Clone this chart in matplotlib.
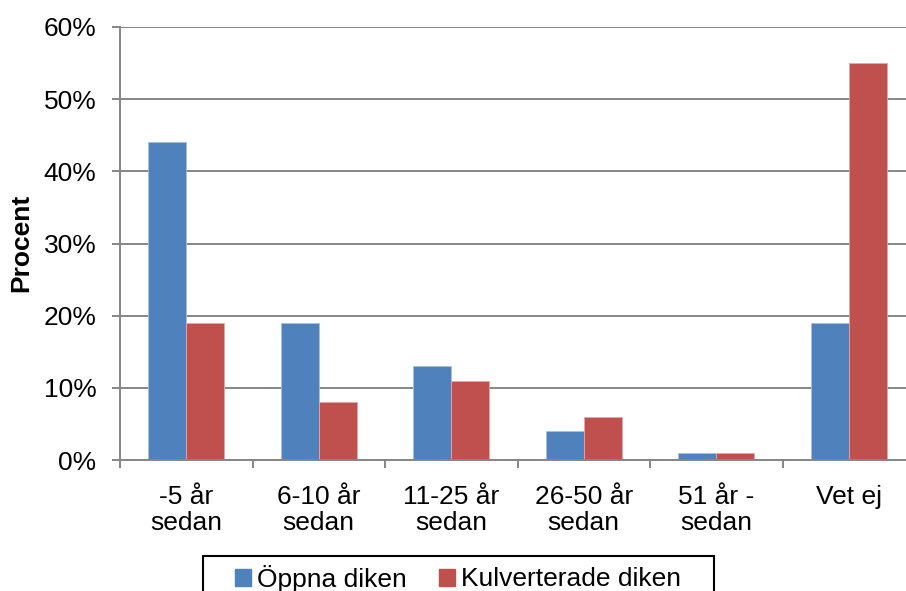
import matplotlib
matplotlib.use("Agg")
import matplotlib.pyplot as plt
from matplotlib.patches import Rectangle, Patch
import numpy as np

plt.rcParams['font.family'] = ['Liberation Sans', 'DejaVu Sans']

categories = ["-5 år\nsedan", "6-10 år\nsedan", "11-25 år\nsedan",
              "26-50 år\nsedan", "51 år -\nsedan", "Vet ej"]
oppna = [44, 19, 13, 4, 1, 19]
kulverterade = [19, 8, 11, 6, 1, 55]
series_names = ["Öppna diken", "Kulverterade diken"]
yticks = [0, 10, 20, 30, 40, 50, 60]

blue = "#4F81BD"
red = "#C0504D"
grey = "#868686"

fig = plt.figure(figsize=(9.06, 5.91), dpi=100)
ax = fig.add_axes([120 / 906, 131 / 591, 795 / 906, 433 / 591])

x = np.arange(len(categories))
w = 0.287
ax.bar(x - w / 2, oppna, w, color=blue, edgecolor="#A7C0DE", linewidth=0.6, zorder=3)
ax.bar(x + w / 2, kulverterade, w, color=red, edgecolor="#E0A9A8", linewidth=0.6, zorder=3)

ax.set_xlim(-0.5, len(categories) - 0.5)
ax.set_ylim(0, 60)
ax.set_yticks(yticks)
ax.set_yticklabels([f"{v}%" for v in yticks], fontsize=19)
ax.yaxis.grid(True, color=grey, linewidth=1.4, zorder=0)

# category boundaries as major ticks, labels on minor ticks
ax.set_xticks(np.arange(len(categories) + 1) - 0.5)
ax.set_xticklabels([])
ax.set_xticks(x, minor=True)
ax.set_xticklabels(categories, minor=True, fontsize=19, linespacing=1.08)
ax.tick_params(axis='x', which='major', length=6, width=1.4, color=grey, direction='out')
ax.tick_params(axis='x', which='minor', length=0, pad=18)
ax.tick_params(axis='y', length=6, width=1.4, color=grey, pad=11)

for s in ['top', 'right']:
    ax.spines[s].set_visible(False)
for s in ['left', 'bottom']:
    ax.spines[s].set_color(grey)
    ax.spines[s].set_linewidth(1.4)
ax.spines['bottom'].set_zorder(4)

fig.text(21 / 906, 1 - 243 / 591, "Procent", rotation=90, fontsize=19,
         fontweight='bold', ha='center', va='center')

# legend box (cut off at bottom as in the original)
fig.patches.append(Rectangle((203 / 906, -0.05), 511 / 906, 0.05 + 35 / 591,
                             transform=fig.transFigure, fill=False,
                             edgecolor='black', linewidth=1.5))
handles = [Patch(color=blue), Patch(color=red)]
fig.legend(handles, series_names, loc='center', bbox_to_anchor=(458 / 906, 1 - 578 / 591),
           ncol=2, frameon=False, fontsize=19, handlelength=0.6, handleheight=0.6,
           handletextpad=0.25, columnspacing=1.2, borderpad=0)

fig.savefig("out.png", dpi=100)
